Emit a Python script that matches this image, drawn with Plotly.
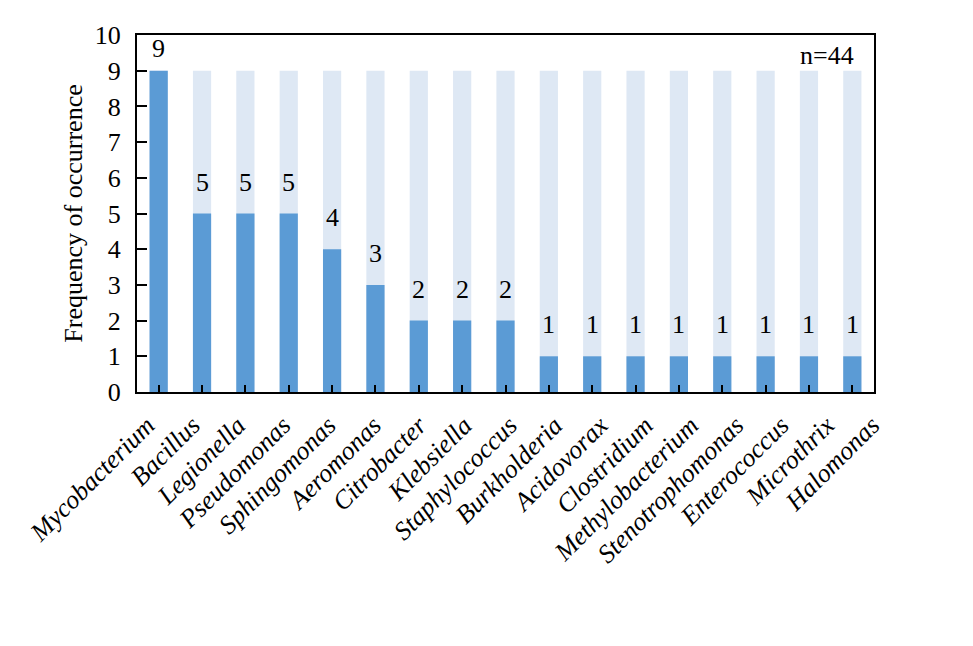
import plotly.graph_objects as go

genera = ["Mycobacterium", "Bacillus", "Legionella", "Pseudomonas", "Sphingomonas",
          "Aeromonas", "Citrobacter", "Klebsiella", "Staphylococcus", "Burkholderia",
          "Acidovorax", "Clostridium", "Methylobacterium", "Stenotrophomonas",
          "Enterococcus", "Microthrix", "Halomonas"]
frequency = [9, 5, 5, 5, 4, 3, 2, 2, 2, 1, 1, 1, 1, 1, 1, 1, 1]
background = [9] * len(genera)
n_label = "n=44"

FONT = "Liberation Serif"
FS = 26
N = len(genera)
LABEL_SPREAD = 1.045  # category labels are spaced slightly wider than the bars
half = (N * 1.0 / LABEL_SPREAD - (N - 1)) / 2

fig = go.Figure()
fig.add_trace(go.Bar(x=genera, y=background, marker_color="#dee8f4",
                     marker_line_width=0, width=0.42, hoverinfo="skip"))
fig.add_trace(go.Bar(x=genera, y=frequency, marker_color="#5b9bd5",
                     marker_line_width=0, width=0.42))

for g, v in zip(genera, frequency):
    fig.add_annotation(x=g, y=v, text=str(v), showarrow=False, yanchor="bottom",
                       yshift=6 if v == max(frequency) else 15,
                       font=dict(family=FONT, size=FS, color="black"))

fig.add_annotation(xref="paper", yref="paper", x=0.975, y=0.99, text=n_label,
                   showarrow=False, xanchor="right", yanchor="top",
                   font=dict(family=FONT, size=FS, color="black"))

fig.update_layout(
    width=973, height=646, barmode="overlay", showlegend=False,
    plot_bgcolor="rgba(0,0,0,0)", paper_bgcolor="white",
    margin=dict(l=137, r=99, t=35, b=254),
    font=dict(family=FONT, size=FS, color="black"),
    xaxis=dict(type="category", showline=True, linecolor="black",
               linewidth=2, mirror=True, ticks="inside", ticklen=7, tickwidth=2,
               tickcolor="black", showticklabels=False, showgrid=False),
    xaxis2=dict(overlaying="x", anchor="y", side="bottom",
                range=[-half, N - 1 + half], tickmode="array",
                tickvals=list(range(N)),
                ticktext=["<i>%s</i>" % g for g in genera],
                tickangle=-45, tickfont=dict(family=FONT, size=FS),
                ticklabelshift=4, ticklabelstandoff=12,
                showline=False, showgrid=False, zeroline=False, ticks=""),
    yaxis=dict(range=[0, 10], dtick=1, showline=True, linecolor="black", linewidth=2,
               mirror=True, ticks="inside", ticklen=10, tickwidth=2, tickcolor="black",
               tickfont=dict(family=FONT, size=FS), showgrid=False, zeroline=False,
               ticklabelstandoff=9,
               title=dict(text="Frequency of occurrence", font=dict(family=FONT, size=FS),
                          standoff=5)),
)
# invisible helper trace so the label axis is drawn
fig.add_trace(go.Scatter(x=[0], y=[0], xaxis="x2", mode="markers",
                         marker=dict(opacity=0), hoverinfo="skip", showlegend=False))

fig.write_html("out.html")
